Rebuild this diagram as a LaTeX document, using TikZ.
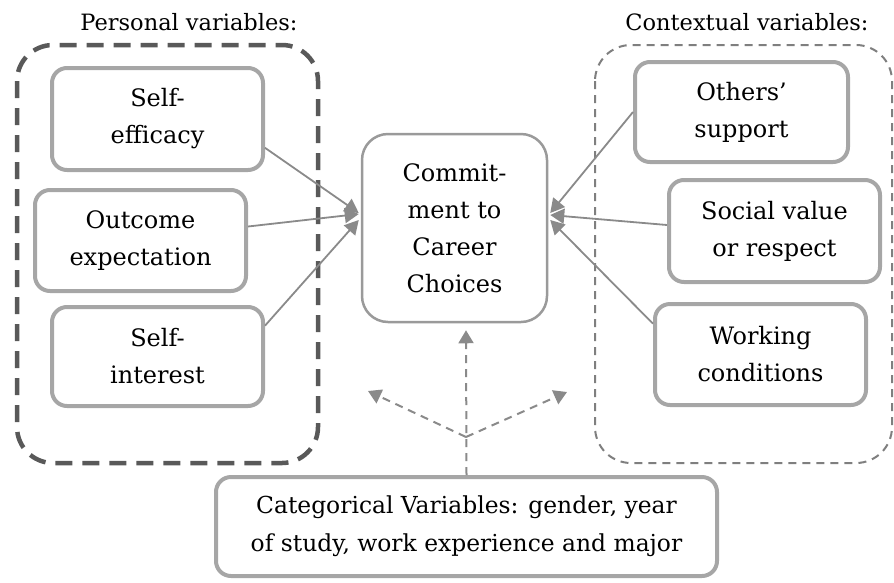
\documentclass[tikz,border=0pt]{standalone}
\usepackage{fontspec}
\setmainfont{DejaVu Serif}
\usetikzlibrary{arrows.meta,calc}
\definecolor{boxgray}{HTML}{A6A6A6}
\definecolor{cmgray}{HTML}{9A9A9A}
\definecolor{darkdash}{HTML}{595959}
\definecolor{lightdash}{HTML}{7F7F7F}
\definecolor{arrgray}{HTML}{8A8A8A}
\tikzset{
  varbox/.style={draw=boxgray, line width=4pt, rounded corners=15pt, align=center,
    font=\fontsize{24}{37}\selectfont, inner sep=0pt},
  cmbox/.style={draw=cmgray, line width=2.5pt, rounded corners=26pt, align=center,
    font=\fontsize{24}{37}\selectfont, inner sep=0pt},
  grouplabel/.style={font=\fontsize{22.5}{28}\selectfont, inner sep=0pt},
  arr/.style={draw=arrgray, line width=1.8pt, -{Triangle[length=14pt,width=15pt]}},
  darr/.style={draw=arrgray, line width=2pt, dash pattern=on 8pt off 6pt, -{Triangle[length=13pt,width=15pt]}},
}
\begin{document}
\begin{tikzpicture}[x=1pt,y=-1pt]
\useasboundingbox (0,0) rectangle (894,582);
% group frames
\draw[darkdash, line width=4.5pt, dash pattern=on 17pt off 10pt, rounded corners=36pt] (17,45) rectangle (318,463);
\draw[lightdash, line width=2pt, dash pattern=on 8pt off 6pt, rounded corners=36pt] (595,45) rectangle (892,463);
\node[grouplabel] (pl) at (189,22) {Personal variables:};
\node[grouplabel] (cl) at (747,22) {Contextual variables:};
% boxes
\node[varbox, minimum width=211pt, minimum height=102pt] (se) at (157.5,119) {Self-\\efficacy};
\node[varbox, minimum width=211pt, minimum height=101pt] (oe) at (140.5,240.5) {Outcome\\expectation};
\node[varbox, minimum width=211pt, minimum height=99pt] (si) at (157.5,356.5) {Self-\\interest};
\node[cmbox, minimum width=185pt, minimum height=188pt] (cm) at (454.5,228) {Commit-\\ment to\\Career\\Choices};
\node[varbox, minimum width=213pt, minimum height=100pt] (os) at (741.5,112) {Others’\\support};
\node[varbox, minimum width=211pt, minimum height=102pt] (sv) at (774.5,231) {Social value\\or respect};
\node[varbox, minimum width=211pt, minimum height=101pt] (wc) at (760.5,354.5) {Working\\conditions};
\node[varbox, minimum width=501pt, minimum height=99pt, font=\fontsize{23.4}{38}\selectfont] (cat) at (466.5,526.5) {Categorical Variables: gender, year\\of study, work experience and major};
% solid arrows
\draw[arr] (se.-15) -- ($(cm.west)+(-2,-15)$);
\draw[arr] ($(oe.east)+(0,-14)$) -- ($(cm.west)+(-2,-14)$);
\draw[arr] (si.16) -- ($(cm.west)+(-2,-8)$);
\draw[arr] (os.west) -- ($(cm.east)+(2,-15)$);
\draw[arr] ($(sv.west)+(0,-6)$) -- ($(cm.east)+(2,-13)$);
\draw[arr] (wc.164) -- ($(cm.east)+(2,-8)$);
% dashed arrows
\coordinate (br) at (466,437);
\coordinate (lt) at (368,391);
\coordinate (rt) at (567,392);
\draw[darr] (cat.north) -- ($(cm.south)+(11.5,7)$);
\draw[darr] (br) -- (lt);
\draw[darr] (br) -- (rt);
\end{tikzpicture}
\end{document}
